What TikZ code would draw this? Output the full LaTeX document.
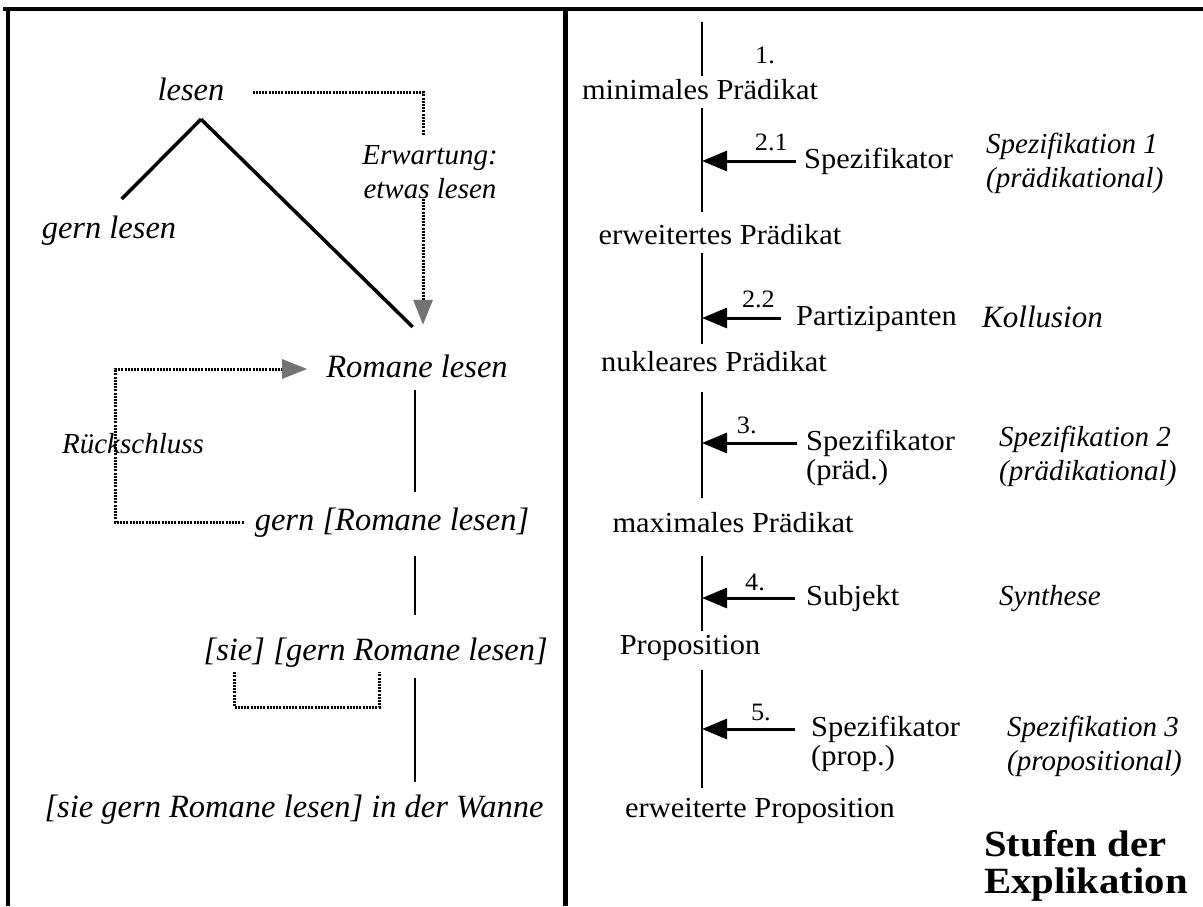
\documentclass[tikz,border=0pt]{standalone}
\usepackage{fontspec}
\setmainfont{Liberation Serif}[FakeStretch=1.05]
\newfontfamily\slfam{Liberation Serif}
\newfontfamily\bdfam{Liberation Serif}[FakeStretch=1.1]
\usetikzlibrary{arrows.meta,positioning}

\begin{document}
\begin{tikzpicture}[x=1pt,y=-1pt,
  txt/.style={inner xsep=0pt, inner ysep=3pt, text height=20pt, text depth=6pt, font=\fontsize{29}{32}\selectfont},
  ital/.style={inner xsep=0pt, inner ysep=3pt, text height=23pt, text depth=7pt, font=\slfam\itshape\fontsize{32.5}{36}\selectfont},
  gloss/.style={inner sep=0pt, align=left, font=\slfam\itshape\fontsize{29}{34}\selectfont},
  num/.style={inner sep=0pt, font=\fontsize{25}{26}\selectfont},
  frame/.style={line width=4.5pt},
  spine/.style={line width=2.5pt},
  branch/.style={line width=3.5pt},
  feed/.style={line width=3pt, -{Triangle[length=25pt,width=20pt]}},
  dots/.style={line width=3pt, dash pattern=on 2pt off 1.2pt},
  hatch/.style={-{Triangle[length=25pt,width=19pt,color=black!55,fill=black!55]}}
]
\useasboundingbox (0,0) rectangle (1203,906);

% frame
\draw[frame] (3,9) -- (1203,9);
\draw[frame] (8,7) -- (8,906);
\draw[frame, line width=5pt] (565,7) -- (565,906);

% left side
\node[ital] (lesen) at (191,92) {lesen};
\node[ital] (gernlesen) at (109,230) {gern lesen};
\node[gloss, align=center] (erw) at (430,172) {Erwartung:\\etwas lesen};
\node[ital] (romane) at (417,369) {Romane lesen};
\node[gloss] (rueck) at (133,444) {Rückschluss};
\node[ital] (gernR) at (392,522) {gern [Romane lesen]};
\node[ital, anchor=east] (sieB) at (548,652) {[gern Romane lesen]};
\node[ital, left=8pt of sieB] (sieA) {[sie]};
\node[ital] (wanne) at (294,809) {[sie gern Romane lesen] in der Wanne};

\coordinate (lx) at (415,0);
\coordinate (rk) at (115,444);
\coordinate (erwtop) at ([xshift=-7pt]erw.north);
\coordinate (erwbot) at ([xshift=-7pt]erw.south);

\draw[branch, shorten >=18pt] ([xshift=10pt,yshift=-9pt]lesen.south) -- (gernlesen.north);
\draw[branch, shorten >=34pt] ([xshift=10pt,yshift=-9pt]lesen.south) -- ([xshift=20pt]romane.north);
\draw[spine, shorten <=3pt, shorten >=12pt] (romane.south -| lx) -- (gernR.north -| lx);
\draw[spine, shorten <=16pt, shorten >=19pt] (gernR.south -| lx) -- (sieB.north -| lx);
\draw[spine, shorten <=8pt, shorten >=9pt] (sieB.south -| lx) -- (wanne.north -| lx);

% dotted
\draw[dots, shorten <=28pt, shorten >=10pt] (lesen.east) -| (erwtop);
\draw[dots, hatch, shorten >=26pt] (erwbot) -- (erwbot |- romane.north);
\draw[dots, hatch, shorten <=11pt, shorten >=19pt] (gernR.west) -| (rk) |- (romane.west);
\draw[dots, shorten <=2pt, shorten >=2pt] (sieA.south) -- ++(0,37) -| ([xshift=-31pt]sieB.south);

% right side
\coordinate (sp) at (702,22);
\node[txt] (minP) at (700,92) {minimales Prädikat};
\node[num] (one) at (765,55) {1.};
\node[txt, anchor=west] (spez1) at (804,161) {Spezifikator};
\node[gloss, anchor=west] (spec1) at (986,163) {Spezifikation 1\\(prädikational)};
\node[txt] (erwP) at (720,237) {erweitertes Prädikat};
\node[txt, anchor=west] (partiz) at (796,318) {Partizipanten};
\node[gloss, anchor=west, font=\slfam\itshape\fontsize{31}{34}\selectfont] (koll) at (982,317) {Kollusion};
\node[txt] (nukP) at (714,364) {nukleares Prädikat};
\node[txt, anchor=west] (spez2) at (806,443) {Spezifikator};
\node[txt, anchor=north west, yshift=3pt] (praed) at (spez2.south west) {(präd.)};
\node[gloss, anchor=west] (spec2) at (999,456) {Spezifikation 2\\(prädikational)};
\node[txt] (maxP) at (733,525) {maximales Prädikat};
\node[txt, anchor=west] (subj) at (806,598) {Subjekt};
\node[gloss, anchor=west] (synth) at (999,599) {Synthese};
\node[txt] (prop) at (690,647) {Proposition};
\node[txt, anchor=west] (spez3) at (811,729) {Spezifikator};
\node[txt, anchor=north west, yshift=3pt] (propp) at (spez3.south west) {(prop.)};
\node[gloss, anchor=west] (spec3) at (1007,746) {Spezifikation 3\\(propositional)};
\node[txt] (erwProp) at (760,810) {erweiterte Proposition};
\node[anchor=west, align=left, inner sep=0pt, font=\bdfam\bfseries\fontsize{37}{37}\selectfont] (stufen) at (984,866) {Stufen der\\Explikation};

\draw[spine] (sp) -- (minP.north -| sp);
\draw[spine, shorten >=9pt] (minP.south -| sp) -- (erwP.north -| sp);
\draw[spine, shorten >=4pt] (erwP.south -| sp) -- (nukP.north -| sp);
\draw[spine, shorten <=12pt, shorten >=11pt] (nukP.south -| sp) -- (maxP.north -| sp);
\draw[spine, shorten <=15pt] (maxP.south -| sp) -- (prop.north -| sp);
\draw[spine, shorten <=7pt, shorten >=6pt] (prop.south -| sp) -- (erwProp.north -| sp);

\draw[feed, shorten <=8pt] (spez1.west) -- (spez1.west -| sp) node[num, pos=0.32, above=9pt] {2.1};
\draw[feed, shorten <=15pt] (partiz.west) -- (partiz.west -| sp) node[num, pos=0.4, above=9pt] {2.2};
\draw[feed, shorten <=9pt] (spez2.west) -- (spez2.west -| sp) node[num, pos=0.57, above=8pt] {3.};
\draw[feed, shorten <=11pt] (subj.west) -- (subj.west -| sp) node[num, pos=0.49, above=6pt] {4.};
\draw[feed, shorten <=16pt] (spez3.west) -- (spez3.west -| sp) node[num, pos=0.46, above=7pt] {5.};

\end{tikzpicture}
\end{document}
